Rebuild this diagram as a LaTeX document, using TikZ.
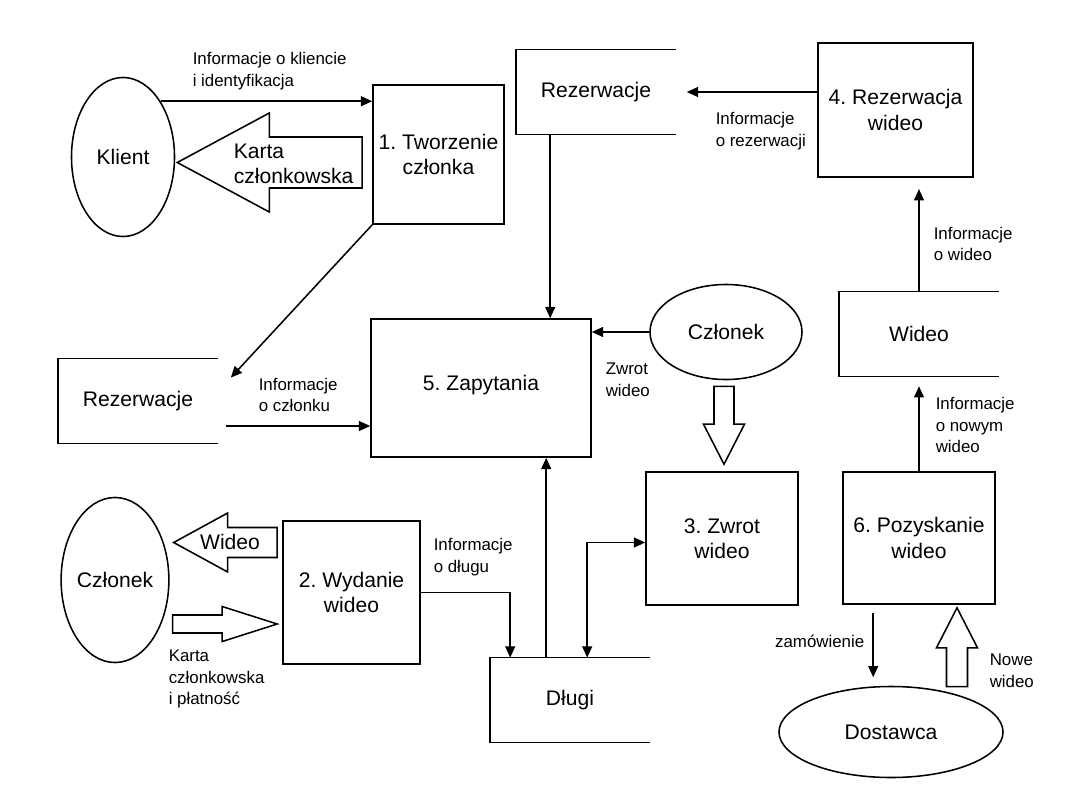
\documentclass[tikz,border=0pt]{standalone}
\usepackage{fontspec}
\setmainfont{Liberation Sans}
\frenchspacing
\usepackage{tikz}
\usetikzlibrary{arrows.meta,positioning,calc,shapes.geometric}

\newcommand{\hollowarrow}[5]{%
  \coordinate (hb) at ($(#2)!#5!(#1)$);
  \draw[fill=white] ($(#1)!#3!90:(#2)$) -- ($(hb)!#3!90:(#2)$) -- ($(hb)!#4!90:(#2)$) -- (#2)
    -- ($(hb)!#4!-90:(#2)$) -- ($(hb)!#3!-90:(#2)$) -- ($(#1)!#3!-90:(#2)$) -- cycle;
}

\begin{document}
\begin{tikzpicture}[x=0.025cm,y=-0.025cm,>={Triangle[length=8pt,width=7pt]},line width=1.1pt,
  big/.style={font=\fontsize{15}{18}\selectfont,align=center},
  bigl/.style={big,align=left,inner sep=0pt},
  small/.style={font=\fontsize{12}{15.5}\selectfont,align=left,inner sep=0pt},
  proc/.style={draw,big,inner sep=2pt},
  store/.style={big,minimum width=3.95cm,minimum height=2.08cm},
  actor/.style={draw,ellipse,big,inner sep=0pt},
  flow/.style={->}]
  \useasboundingbox (0,0) rectangle (1080,810);

  \node[actor,minimum width=2.575cm,minimum height=3.975cm] (klient) at (123,157) {Klient};
  \node[proc,minimum width=3.275cm,minimum height=3.475cm] (proc1) at (438.5,154.5) {1. Tworzenie\\członka};
  \node[store] (rezT) at (596,92) {Rezerwacje};
  \node[proc,minimum width=3.875cm,minimum height=3.35cm] (proc4) at (895.5,110) {4. Rezerwacja\\wideo};
  \node[store] (rezL) at (138,401) {Rezerwacje};
  \node[proc,minimum width=5.5cm,minimum height=3.45cm] (proc5) at (481,388) {\raisebox{8pt}{5. Zapytania}};
  \node[actor,minimum width=3.8cm,minimum height=2.375cm] (czlonekR) at (726,332) {Członek};
  \node[store] (wideoS) at (919,334) {Wideo};
  \node[actor,minimum width=2.45cm,minimum height=4.125cm] (czlonekL) at (115,580) {Członek};
  \node[proc,minimum width=3.425cm,minimum height=3.575cm] (proc2) at (351.5,592.5) {2. Wydanie\\wideo};
  \node[proc,minimum width=3.8cm,minimum height=3.325cm] (proc3) at (722,538.5) {3. Zwrot\\wideo};
  \node[proc,minimum width=3.8cm,minimum height=3.3cm] (proc6) at (919,538) {6. Pozyskanie\\wideo};
  \node[store] (dlugi) at (570,700) {Długi};
  \node[actor,minimum width=5.6cm,minimum height=2.275cm] (dostawca) at (891,732) {Dostawca};

  \foreach \s in {rezT,rezL,wideoS,dlugi}
    \draw (\s.north east) -| (\s.south west) -- (\s.south east);

  \draw[flow] (klient.56) -- (klient.56 -| proc1.west);
  \draw[flow] (proc1.south west) -- ($(rezL.north east)+(13,19)$);
  \coordinate (c5) at ($(rezL.east)+(8,25)$);
  \draw[flow] (c5) -- (c5 -| proc5.west);
  \coordinate (cT) at ($(rezT.south west)+(34,0)$);
  \draw[flow] (cT) -- (cT |- proc5.north);
  \draw[flow] (proc4.west |- rezT.east) -- ($(rezT.east)+(11,0)$);
  \draw[flow,shorten >=8pt] (wideoS.north) -- (wideoS.north |- proc4.south);
  \draw[flow,shorten >=7pt] (proc6.north) -- (wideoS.south);
  \draw[flow] (czlonekR.west) -- (czlonekR.west -| proc5.east);
  \draw[flow] (proc2.east) -| ($(dlugi.north west)+(20,0)$);
  \coordinate (cD) at ($(dlugi.north west)+(56,0)$);
  \draw[flow] (cD) -- (cD |- proc5.south);
  \draw[<->] ($(dlugi.north west)+(97,0)$) |- ($(proc3.west)+(0,4)$);
  \coordinate (c6) at ($(proc6.south west)+(31,0)$);
  \draw[flow,shorten <=6pt,shorten >=6pt] (c6) -- (c6 |- dostawca.north);

  \coordinate (kTail) at ($(proc1.west)+(-10,8)$);
  \coordinate (kTip) at ($(klient.east |- kTail)+(2,0)$);
  \hollowarrow{kTail}{kTip}{0.6375cm}{1.2375cm}{2.3cm}
  \coordinate (wTail) at ($(proc2.west)+(-5,-50)$);
  \coordinate (wTip) at ($(czlonekL.east |- wTail)+(4,0)$);
  \hollowarrow{wTail}{wTip}{0.375cm}{0.7375cm}{1.35cm}
  \coordinate (pTail) at ($(czlonekL.east)+(3,44)$);
  \coordinate (pTip) at ($(proc2.west |- pTail)+(-5,0)$);
  \hollowarrow{pTail}{pTip}{0.225cm}{0.4375cm}{1.375cm}
  \coordinate (zTail) at ($(czlonekR.south)+(-2,6)$);
  \coordinate (zTip) at ($(proc3.north)+(2,-7)$);
  \hollowarrow{zTail}{zTip}{0.25cm}{0.5125cm}{1cm}
  \coordinate (nTail) at ($(dostawca.north)+(66,1)$);
  \coordinate (nTip) at ($(proc6.south)+(38,3)$);
  \hollowarrow{nTail}{nTip}{0.2625cm}{0.5125cm}{1cm}

  \node[bigl,anchor=west] (lblKarta) at (233,164) {Karta\\członkowska};
  \node[big] (lblWideo) at (230,542) {Wideo};
  \node[small,anchor=west] (lblKlient) at (192,71) {Informacje o kliencie\\i identyfikacja};
  \node[small,anchor=west] (lblRez) at (715,131) {Informacje\\o rezerwacji};
  \node[small,anchor=west] (lblWid) at (933,244) {Informacje\\o wideo};
  \node[small,anchor=west] (lblCzl) at (258,395) {Informacje\\o członku};
  \node[small,anchor=west] (lblZwrot) at (605,380) {Zwrot\\wideo};
  \node[small,anchor=west] (lblNowy) at (935,425) {Informacje\\o nowym\\wideo};
  \node[small,anchor=west] (lblPlat) at (168,679) {Karta\\członkowska\\i płatność};
  \node[small,anchor=west] (lblDlug) at (433,557) {Informacje\\o długu};
  \node[small,anchor=east] (lblZam) at (865,641) {zamówienie};
  \node[small,anchor=west] (lblNowe) at (989,671) {Nowe\\wideo};
\end{tikzpicture}
\end{document}
